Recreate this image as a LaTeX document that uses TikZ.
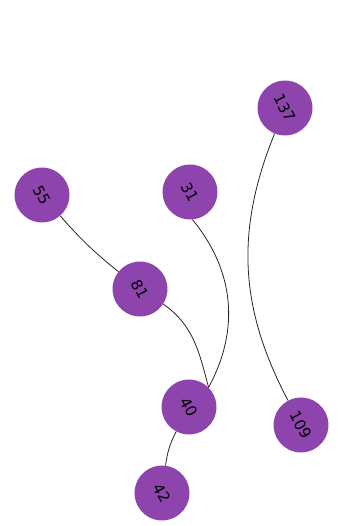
\documentclass[tikz,border=0pt]{standalone}
\usepackage{fontspec}
\setmainfont{DejaVu Sans}
\definecolor{nodepurple}{RGB}{142,68,173}
\begin{document}
\begin{tikzpicture}[x=1pt,y=1pt,
  vert/.style={circle,fill=nodepurple,draw=none,minimum size=55pt,inner sep=0pt,
    font=\fontsize{15}{15}\selectfont,rotate=-62},
  edge/.style={draw=black!85,line width=0.8pt}]
\fill[white] (0,0) rectangle (337,-526);
\useasboundingbox (0,0) rectangle (337,-526);
\node[vert] (n137) at (285,-108) {137};
\node[vert] (n55) at (42,-195) {55};
\node[vert] (n31) at (190,-192) {31};
\node[vert] (n81) at (140,-289) {81};
\node[vert] (n40) at (189,-407) {40};
\node[vert] (n109) at (301,-425) {109};
\node[vert] (n42) at (162,-493) {42};
% node anchors are turned with the node (rotate=-62), hence the +62
\draw[edge] (n55) to[bend right=5] (n81);
\draw[edge] (n81.29) to[out=-35,in=105] (n40.107);
\draw[edge] (n31.-23) to[bend left=34] (n40.107);
\draw[edge] (n137) to[bend right=25] (n109);
\draw[edge] (n40) to[bend right=10] (n42);
\end{tikzpicture}
\end{document}
